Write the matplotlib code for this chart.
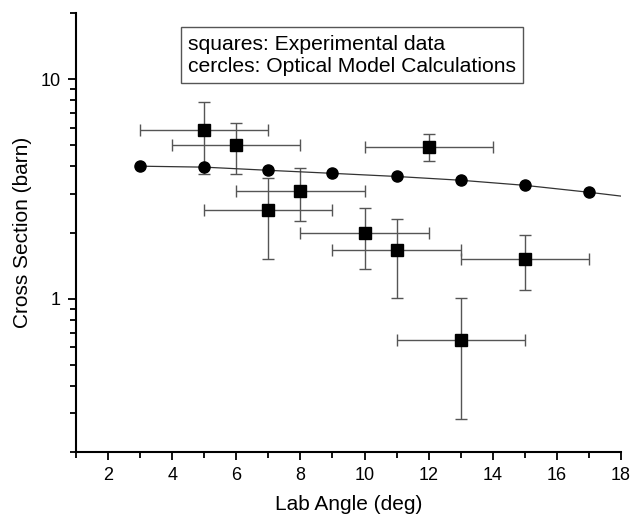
import matplotlib
matplotlib.use("Agg")
import matplotlib.pyplot as plt
from matplotlib.ticker import LogLocator, NullFormatter, FixedLocator, FuncFormatter

plt.rcParams['font.family'] = ['Liberation Sans', 'DejaVu Sans']

# Experimental data (squares)
exp_angle = [5, 6, 7, 8, 10, 11, 12, 13, 15]
exp_xs = [5.85, 5.0, 2.52, 3.08, 1.98, 1.66, 4.89, 0.65, 1.52]
exp_err_up = [7.85, 6.3, 3.53, 3.93, 2.58, 2.3, 5.6, 1.01, 1.94]
exp_err_low = [3.68, 3.68, 1.52, 2.25, 1.37, 1.01, 4.23, 0.283, 1.09]
exp_angle_err = [2, 2, 2, 2, 2, 2, 2, 2, 2]

# Optical model calculations (circles)
om_angle = [3, 5, 7, 9, 11, 13, 15, 17]
om_xs = [4.01, 3.97, 3.84, 3.72, 3.60, 3.46, 3.28, 3.05]
om_line_angle = [3, 5, 7, 9, 11, 13, 15, 17, 18]
om_line_xs = [4.01, 3.97, 3.84, 3.72, 3.60, 3.46, 3.28, 3.05, 2.93]

fig = plt.figure(figsize=(6.32, 5.17), dpi=100)
ax = fig.add_axes([76/632, 1 - 452/517, (621-76)/632, (452-13)/517])

yerr = [[v - l for v, l in zip(exp_xs, exp_err_low)],
        [u - v for v, u in zip(exp_xs, exp_err_up)]]
ax.errorbar(exp_angle, exp_xs, yerr=yerr, xerr=exp_angle_err, fmt='none',
            ecolor='#555555', elinewidth=1.0, capsize=4, capthick=1.0, zorder=2)
ax.plot(exp_angle, exp_xs, 's', color='black', markersize=8, zorder=3)

ax.plot(om_line_angle, om_line_xs, '-', color='#333333', linewidth=0.9, zorder=2)
ax.plot(om_angle, om_xs, 'o', color='black', markersize=8, zorder=3)

ax.set_yscale('log')
ax.set_xlim(1, 18)
ax.set_ylim(0.2, 20)

ax.xaxis.set_major_locator(FixedLocator([2, 4, 6, 8, 10, 12, 14, 16, 18]))
ax.xaxis.set_minor_locator(FixedLocator([1, 3, 5, 7, 9, 11, 13, 15, 17]))
ax.yaxis.set_major_locator(FixedLocator([1, 10]))
ax.yaxis.set_major_formatter(FuncFormatter(lambda v, p: '%g' % v))
ax.yaxis.set_minor_locator(LogLocator(base=10, subs=[2, 3, 4, 5, 6, 7, 8, 9]))
ax.yaxis.set_minor_formatter(NullFormatter())

ax.spines['top'].set_visible(False)
ax.spines['right'].set_visible(False)
for s in ['left', 'bottom']:
    ax.spines[s].set_linewidth(1.5)
ax.tick_params(which='major', direction='out', length=6, width=1.3, labelsize=13, pad=5)
ax.tick_params(which='minor', direction='out', length=4, width=1.3)

ax.set_xlabel('Lab Angle (deg)', fontsize=15, labelpad=8)
ax.set_ylabel('Cross Section (barn)', fontsize=15, labelpad=6)

ax.text(0.2055, 0.904, 'squares: Experimental data\ncercles: Optical Model Calculations',
        transform=ax.transAxes, fontsize=15.2, va='center', ha='left', linespacing=1.2,
        bbox=dict(boxstyle='square,pad=0.35', facecolor='white', edgecolor='#555555', linewidth=1))

fig.savefig('out.png', dpi=100)
